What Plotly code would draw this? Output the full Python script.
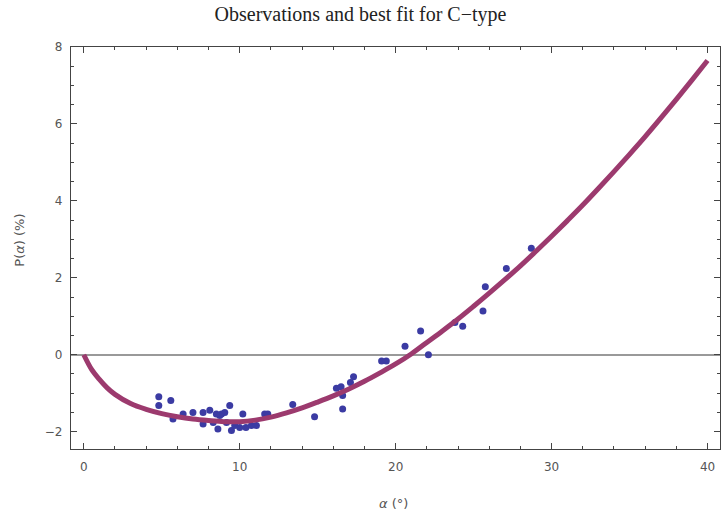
import plotly.graph_objects as go

# Observations (phase angle alpha in degrees, polarization P in %)
obs_alpha = [4.81, 4.81, 5.58, 5.72, 6.37, 7.0, 7.65, 8.08, 7.65, 8.83, 8.6, 9.36, 9.04, 8.72,
             8.5, 9.15, 9.47, 9.68, 10.2, 10.0, 10.4, 10.75, 11.07, 11.6, 11.8, 8.3,
             13.4, 14.8, 16.2, 16.5, 16.6, 16.6, 17.1, 17.3, 19.1, 19.4, 20.6, 21.6, 22.1,
             23.8, 24.3, 25.6, 25.75, 27.1, 28.7]
obs_p = [-1.09, -1.32, -1.19, -1.67, -1.54, -1.50, -1.50, -1.44, -1.80, -1.54, -1.93, -1.32, -1.50, -1.58,
         -1.54, -1.76, -1.97, -1.84, -1.54, -1.89, -1.89, -1.84, -1.84, -1.54, -1.54, -1.76,
         -1.29, -1.61, -0.87, -0.83, -1.06, -1.41, -0.72, -0.57, -0.16, -0.16, 0.22, 0.62, 0.0,
         0.84, 0.74, 1.14, 1.77, 2.24, 2.77]

# Best-fit curve
fit_alpha = [0, 0.5, 1, 1.5, 2, 3, 4, 5, 6, 7, 8, 9, 10, 11, 12, 13, 14, 15, 16, 17, 18, 19, 20,
             21, 22, 23, 24, 25, 26, 27, 28, 29, 30, 31, 32, 33, 34, 35, 36, 37, 38, 39, 40]
fit_p = [0, -0.38, -0.64, -0.86, -1.03, -1.27, -1.42, -1.53, -1.61, -1.67, -1.71, -1.74, -1.74,
         -1.70, -1.62, -1.51, -1.38, -1.23, -1.07, -0.89, -0.69, -0.47, -0.24,
         0.02, 0.32, 0.62, 0.93, 1.26, 1.60, 1.95, 2.31, 2.69, 3.08, 3.48, 3.89, 4.32, 4.76,
         5.21, 5.67, 6.15, 6.64, 7.14, 7.65]

x_ticks = [0, 10, 20, 30, 40]
y_ticks = [-2, 0, 2, 4, 6, 8]

fig = go.Figure()
fig.add_trace(go.Scatter(x=obs_alpha, y=obs_p, mode="markers",
                         marker=dict(color="#3b3ba3", size=7, line=dict(width=0)),
                         showlegend=False, hoverinfo="skip"))
fig.add_trace(go.Scatter(x=fit_alpha, y=fit_p, mode="lines", line_shape="spline",
                         line=dict(color="#9c3a6e", width=5),
                         showlegend=False, hoverinfo="skip"))

tickfont = dict(family="DejaVu Sans", size=12, color="#555555")
fig.update_layout(
    width=721, height=516,
    margin=dict(l=71, r=1, t=47, b=67),
    paper_bgcolor="white", plot_bgcolor="white",
    title=dict(text="Observations and best fit for C\u2212type",
               font=dict(family="Liberation Serif", size=20, color="#222222"),
               x=0.5, xanchor="center", y=0.973, yanchor="middle"),
    xaxis=dict(range=[-0.82, 40.8], tickvals=x_ticks, ticks="inside", ticklen=6,
               tickcolor="#444444", showline=True, linecolor="#444444", linewidth=1.2,
               mirror="allticks", showgrid=False, zeroline=False,
               minor=dict(ticks="inside", dtick=2, ticklen=3, tickcolor="#444444"),
               tickfont=tickfont, ticklabelstandoff=6),
    yaxis=dict(range=[-2.45, 8.0], tickvals=y_ticks, ticks="inside", ticklen=6,
               tickcolor="#444444", showline=True, linecolor="#444444", linewidth=1.2,
               mirror="allticks", showgrid=False, zeroline=True, zerolinecolor="#999999",
               zerolinewidth=1.5,
               minor=dict(ticks="inside", dtick=0.5, ticklen=3, tickcolor="#444444"),
               tickfont=tickfont, ticklabelstandoff=5),
    annotations=[
        dict(text="<i>\u03b1</i> (\u00b0)", xref="paper", yref="paper", x=0.497, y=-0.135,
             xanchor="center", yanchor="middle", showarrow=False,
             font=dict(family="DejaVu Sans", size=13, color="#555555")),
        dict(text="P(<i>\u03b1</i>) (%)", xref="paper", yref="paper", x=-0.079, y=0.52,
             xanchor="center", yanchor="middle", showarrow=False, textangle=-90,
             font=dict(family="DejaVu Sans", size=13, color="#555555")),
    ],
)

fig.write_html("out.html")
